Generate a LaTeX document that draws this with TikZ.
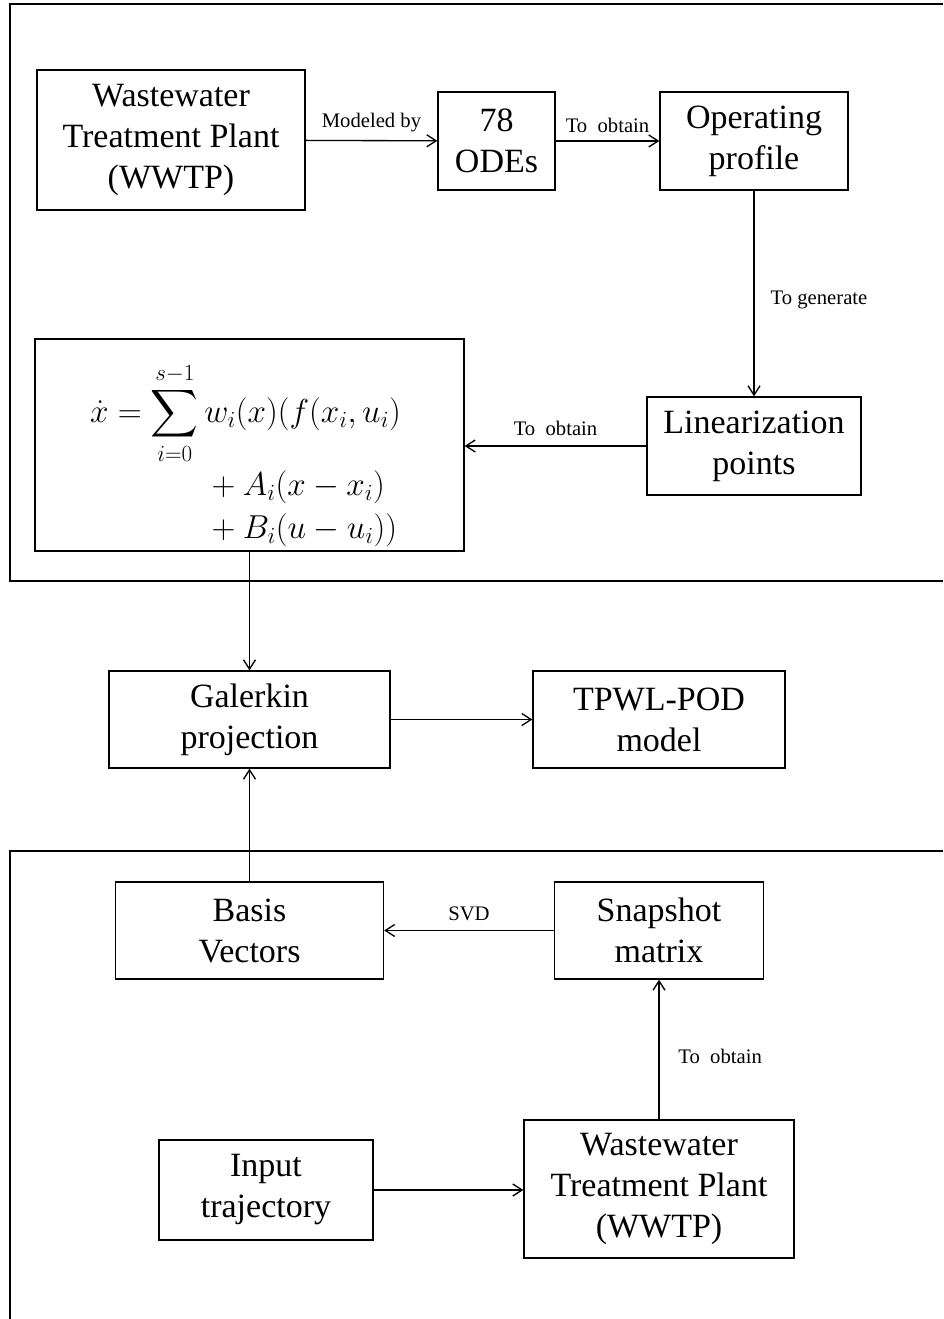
\documentclass[tikz,border=0pt]{standalone}
\usepackage{amsmath}
\usepackage{fontspec}
\setmainfont{Liberation Serif}
\usetikzlibrary{arrows.meta}

% an enlarged summation sign with limits above and below
\newcommand{\bigsumop}{\mathop{\mbox{\fontsize{33}{33}\selectfont$\displaystyle\sum$}}\limits}

\begin{document}
\begin{tikzpicture}[x=0.75pt,y=-0.75pt,
  box/.style={draw, line width=1pt, align=center, inner sep=0pt,
    font=\fontsize{25.5}{30.75}\selectfont},
  lbl/.style={font=\fontsize{15.5}{18}\selectfont, inner sep=2pt},
  arr/.style={-{Straight Barb[length=7pt,width=9pt]}, line width=1pt},
  frame/.style={line width=1.4pt}]
\useasboundingbox (0,0) rectangle (943,1319);

% outer frames (open on the right / bottom)
\draw[frame] (943,4) -- (10,4) -- (10,581) -- (943,581);
\draw[frame] (943,851) -- (10,851) -- (10,1319);

% upper block
\node[box, minimum width=201pt, minimum height=105pt] (wwtpA) at (171,140)
  {Wastewater\\Treatment Plant\\(WWTP)};
\node[box, minimum width=87.75pt, minimum height=73.5pt] (odes) at (496.5,141)
  {78\\ODEs};
\node[box, minimum width=141pt, minimum height=73.5pt] (oper) at (754,141)
  {Operating\\profile};
\node[box, minimum width=160.5pt, minimum height=73.5pt] (lin) at (754,446)
  {Linearization\\points};

% TPWL model equation in its box
\node[box, minimum width=321.75pt, minimum height=159pt] (eq) at (249.5,445) {};
\node[font=\fontsize{25}{31}\selectfont, inner sep=0pt] (eqtext)
  at ([xshift=-3pt,yshift=-9pt]eq.center)
  {$\begin{aligned}
    \dot{x} &= \bigsumop_{i=0}^{s-1} w_i(x)(f(x_i,u_i)\\[-4pt]
    &\hphantom{{}=\sum\,} + A_i(x-x_i)\\[-5pt]
    &\hphantom{{}=\sum\,} + B_i(u-u_i))
  \end{aligned}$};

% middle
\node[box, minimum width=210.75pt, minimum height=72.75pt] (gal) at (249.5,719.5)
  {Galerkin\\projection};
\node[box, minimum width=189pt, minimum height=72.75pt] (tpwl) at (659,719.5)
  {TPWL-POD\\model};

% lower block
\node[box, minimum width=201pt, minimum height=72.75pt] (basis) at (249.5,930.5)
  {Basis\\Vectors};
\node[box, minimum width=156.75pt, minimum height=72.75pt] (snap) at (659,930.5)
  {Snapshot\\matrix};
\node[box, minimum width=160.5pt, minimum height=75pt] (input) at (266,1190)
  {Input\\trajectory};
\node[box, minimum width=202.5pt, minimum height=103.5pt] (wwtpB) at (659,1189)
  {Wastewater\\Treatment Plant\\(WWTP)};

% connectors
\draw[arr] (wwtpA) -- node[lbl, above=4pt] {Modeled by} (odes);
\draw[arr] (odes) -- node[lbl, above=4pt] {To~ obtain} (oper);
\draw[arr] (oper) -- node[lbl, right=10pt, pos=0.53] {To generate} (lin);
\draw[arr] (lin) -- node[lbl, above=5pt] {To~ obtain} (eq.east |- lin);
\draw[arr] (eq.south -| gal) -- (gal);
\draw[arr] (gal) -- (tpwl);
\draw[arr] (basis) -- (gal);
\draw[arr] (snap) -- node[lbl, above=5pt] {SVD} (basis);
\draw[arr] (wwtpB) -- node[lbl, right=12pt, pos=0.45] {To~ obtain} (snap);
\draw[arr] (input.east |- input) -- (wwtpB.west |- input);
\end{tikzpicture}
\end{document}
